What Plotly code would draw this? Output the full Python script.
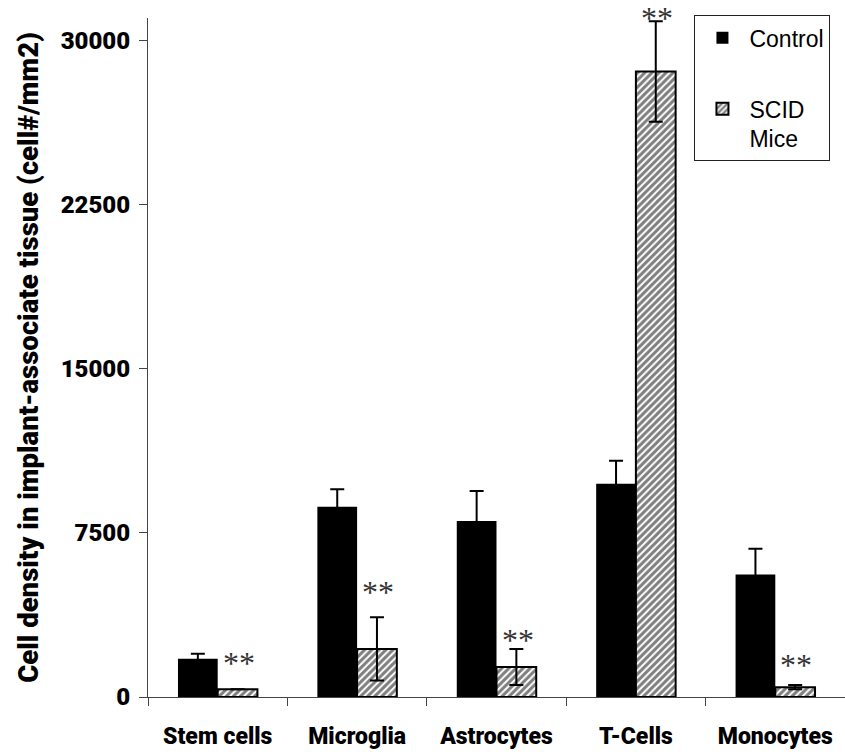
import plotly.graph_objects as go

# Cell densities per cell type (cells / mm2), mean and error
categories = ["Stem cells", "Microglia", "Astrocytes", "T-Cells", "Monocytes"]
control = [1750, 8700, 8050, 9750, 5600]
control_err = [230, 800, 1370, 1050, 1180]
scid = [350, 2200, 1370, 28600, 450]
scid_err = [0, 1450, 820, 2300, 100]
sig_marks = ["**", "**", "**", "**", "**"]
y_ticks = [0, 7500, 15000, 22500, 30000]
y_tick_text = ["0", "7500", "15000", "22500", "30000"]

BOLD_FONT = "Roboto, DejaVu Sans Condensed, sans-serif"
HEAVY = 900

fig = go.Figure()

fig.add_trace(go.Bar(
    name="Control",
    x=categories,
    y=control,
    marker=dict(color="black", line=dict(color="black", width=0)),
    error_y=dict(type="data", array=control_err, color="black", thickness=2, width=7),
    legendgroup="control",
))

fig.add_trace(go.Bar(
    name="SCID<br>Mice",
    x=categories,
    y=scid,
    marker=dict(
        color="white",
        pattern=dict(shape="/", fgcolor="black", bgcolor="white", size=5, solidity=0.6),
        line=dict(color="black", width=2),
    ),
    error_y=dict(type="data", array=scid_err, color="black", thickness=2, width=7),
    legendgroup="scid",
))

# significance markers above the SCID bars
star_lift = [26, 25, 9, 3, 20]
for cat, v, e, mark, lift in zip(categories, scid, scid_err, sig_marks, star_lift):
    fig.add_annotation(
        x=cat, y=v + e, text=mark, showarrow=False,
        xshift=21, yshift=lift, yanchor="middle",
        font=dict(family="Liberation Serif, Times New Roman, serif", size=32, color="#333333"),
    )

fig.update_layout(
    width=845, height=754,
    margin=dict(l=148, r=0, t=18, b=57),
    paper_bgcolor="white", plot_bgcolor="white",
    barmode="group", bargap=0.43, bargroupgap=0,
    showlegend=True,
    legend=dict(
        x=0.784, xanchor="left", y=1.004, yanchor="top",
        bordercolor="#222222", borderwidth=1, bgcolor="white",
        font=dict(family="Liberation Sans, Arial, sans-serif", size=23, color="black"),
        traceorder="grouped", tracegroupgap=38, valign="top", itemwidth=44,
    ),
    xaxis=dict(
        range=[-0.5, 4.5],
        automargin=False,
        showline=True, linecolor="#444444", linewidth=1,
        ticks="outside", tickson="boundaries", ticklen=8, tickcolor="#444444",
        showgrid=False, zeroline=False, tickangle=0,
        tickfont=dict(family=BOLD_FONT, size=23, color="black", weight=HEAVY),
        ticklabelstandoff=18,
    ),
    yaxis=dict(
        range=[0, 31050],
        automargin=False,
        tickvals=y_ticks, ticktext=y_tick_text,
        showline=True, linecolor="#444444", linewidth=1,
        ticks="outside", ticklen=8, tickcolor="#444444",
        showgrid=False, zeroline=False,
        tickfont=dict(family=BOLD_FONT, size=24, color="black", weight=HEAVY),
        ticklabelstandoff=4,
        title=dict(
            text="Cell density in implant-associate tissue (cell#/mm2)",
            font=dict(family=BOLD_FONT, size=27.5, color="black", weight=HEAVY),
            standoff=14,
        ),
    ),
)

fig.write_html("out.html")
